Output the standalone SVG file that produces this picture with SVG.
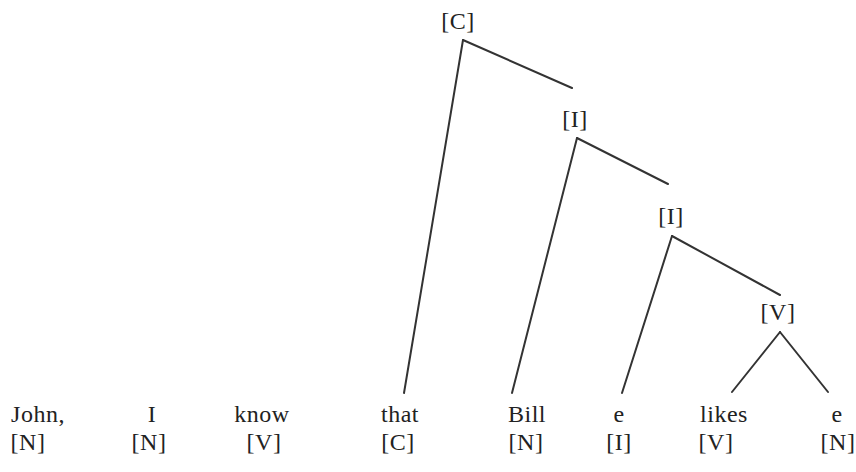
<svg xmlns="http://www.w3.org/2000/svg" width="856" height="472" viewBox="0 0 856 472">
<style>
text{font-family:"Liberation Serif","Times New Roman",serif;font-size:24px;fill:#222;text-anchor:middle;letter-spacing:0.5px}
.e{stroke:#333;stroke-width:2;fill:none;stroke-linecap:round}
</style>
<rect width="856" height="472" fill="#fff"/>
<g id="connectors">
<line class="e" x1="463" y1="40" x2="404" y2="393"/>
<line class="e" x1="463" y1="40" x2="572" y2="88"/>
<line class="e" x1="577" y1="138" x2="512" y2="393"/>
<line class="e" x1="577" y1="138" x2="668" y2="184"/>
<line class="e" x1="672" y1="236" x2="622" y2="393"/>
<line class="e" x1="672" y1="236" x2="780" y2="295"/>
<line class="e" x1="780" y1="332" x2="732" y2="392"/>
<line class="e" x1="780" y1="332" x2="828" y2="392"/>
</g>
<g id="nodeC"><text x="458" y="29">[C]</text></g>
<g id="nodeI1"><text x="575" y="127">[I]</text></g>
<g id="nodeI2"><text x="671" y="224">[I]</text></g>
<g id="nodeV"><text x="778" y="320">[V]</text></g>
<g id="w1"><text x="38" y="422">John,</text><text x="28" y="450">[N]</text></g>
<g id="w2"><text x="152" y="422">I</text><text x="149" y="450">[N]</text></g>
<g id="w3"><text x="262" y="422">know</text><text x="264" y="450">[V]</text></g>
<g id="w4"><text x="400" y="422">that</text><text x="398" y="450">[C]</text></g>
<g id="w5"><text x="527" y="422">Bill</text><text x="526" y="450">[N]</text></g>
<g id="w6"><text x="619" y="422">e</text><text x="619" y="450">[I]</text></g>
<g id="w7"><text x="724" y="422">likes</text><text x="716" y="450">[V]</text></g>
<g id="w8"><text x="837" y="422">e</text><text x="838" y="450">[N]</text></g>
</svg>
